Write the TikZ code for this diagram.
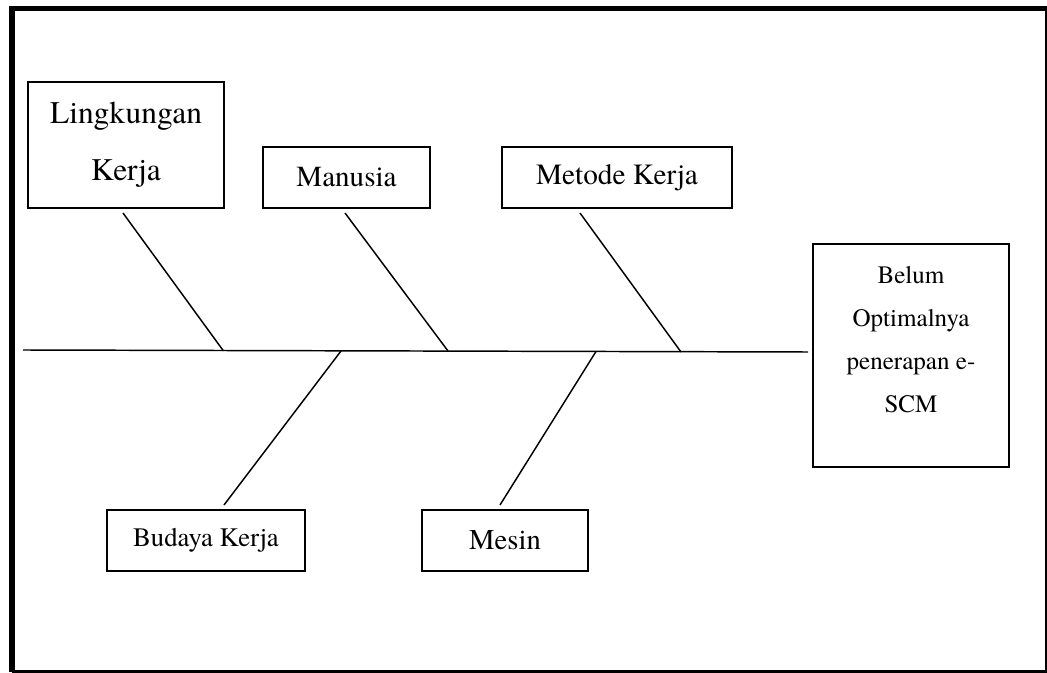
\documentclass[tikz,border=0pt]{standalone}
\usepackage{fontspec}
\setmainfont{TeX Gyre Termes}
\usepackage{tikz}
\tikzset{edge/.style = {-, line width=1.1pt}}
\tikzset{box/.style = {rectangle, draw, line width=1.1pt, inner sep=0pt}}

\begin{document}
\begin{tikzpicture}[x=0.75pt, y=-0.75pt]
			\useasboundingbox (0,0) rectangle (1047,673);
			% frame
			\draw[line width=1.8pt] (12,671.5) -- (1045.8,671.5) -- (1045.8,8.5);
			\draw[line width=4.2pt] (12,671.5) -- (12,8.5) -- (1046.5,8.5);
			\begin{scope}[every node/.style={box}]
			    \node [minimum width=147pt, minimum height=94.5pt, align=center,
			           font=\fontsize{23.6}{42.75}\selectfont] (lingkungan) at (126,145) {Lingkungan\\Kerja};
			    \node [minimum width=125pt, minimum height=45.75pt, font=\fontsize{21.8}{26}\selectfont] (manusia) at (346.5,177.5) {Manusia};
			    \node [minimum width=172.5pt, minimum height=45.75pt, font=\fontsize{22}{26}\selectfont] (metode) at (617,177.5) {Metode Kerja};
			    \node [minimum width=148.5pt, minimum height=45.75pt, font=\fontsize{20}{24}\selectfont] (budaya) at (206,540.5) {Budaya Kerja};
			    \node [minimum width=124.5pt, minimum height=45.75pt, font=\fontsize{21.5}{26}\selectfont] (mesin) at (505,540.5) {Mesin};
			    \node [minimum width=147pt, minimum height=167pt] (goal) at (911,355.5) {};
			\end{scope}
			\node [align=center, font=\fontsize{18.8}{32.3}\selectfont] (goaltext) at (911,340) {Belum\\Optimalnya\\penerapan e-\\SCM};
			% spine
			\coordinate (tail) at (23,350);
			\coordinate (head) at (808,352);
			\path [edge] (tail) edge (head);
			% branches
			\coordinate (l1) at (123,213);  \coordinate (l2) at (223.5,351);
			\coordinate (m1) at (345,213);  \coordinate (m2) at (448,351);
			\coordinate (k1) at (580,213);  \coordinate (k2) at (681,352);
			\coordinate (b1) at (224,505);  \coordinate (b2) at (341,351);
			\coordinate (s1) at (500,505);  \coordinate (s2) at (596,351.5);
			\path [edge] (l1) edge (l2);
			\path [edge] (m1) edge (m2);
			\path [edge] (k1) edge (k2);
			\path [edge] (b1) edge (b2);
			\path [edge] (s1) edge (s2);
\end{tikzpicture}
\end{document}
